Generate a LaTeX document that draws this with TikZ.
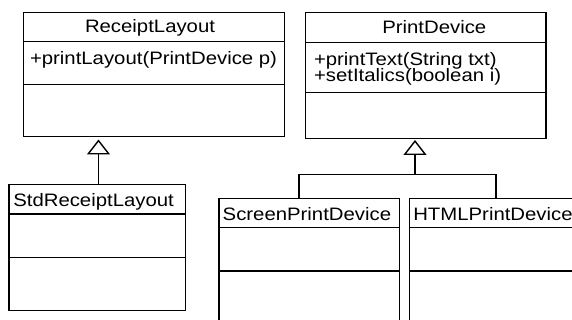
\documentclass[tikz,border=0pt]{standalone}
\usepackage{fontspec}
\setmainfont[FakeStretch=1.13]{Liberation Sans}
\usetikzlibrary{arrows.meta,fit}

\tikzset{
  box/.style={draw, line width=1.4pt, inner sep=0pt, outer sep=0pt},
  sep/.style={line width=1.4pt},
  lbl/.style={inner sep=0pt, outer sep=0pt, anchor=base west,
              font=\fontsize{18}{16.3}\selectfont},
  conn/.style={line width=1.4pt},
  gen/.style={conn, -{Triangle[open, width=23pt, length=15pt, line width=1.4pt]}}
}

\begin{document}
\begin{tikzpicture}[x=1pt, y=-1pt]
\useasboundingbox (0,0) rectangle (572,320);
\clip (0,0) rectangle (572,320);

% class boxes
\node[box, fit={(23.5,12.7) (284.5,136.7)}] (rl) {};
\node[box, fit={(305.7,12.7) (546,138.3)}] (pd) {};
\node[box, fit={(9,184.3) (185.3,310.7)}] (srl) {};
\node[box, fit={(219,198.7) (399.3,335)}] (spd) {};
\node[box, fit={(409.3,198.7) (595,335)}] (html) {};

% compartment separators
\draw[sep] (rl.west |- 0,41.7) -- (rl.east |- 0,41.7);
\draw[sep] (rl.west |- 0,84.3) -- (rl.east |- 0,84.3);
\draw[sep] (pd.west |- 0,42.3) -- (pd.east |- 0,42.3);
\draw[sep] (pd.west |- 0,92.3) -- (pd.east |- 0,92.3);
\draw[sep] (srl.west |- 0,214) -- (srl.east |- 0,214);
\draw[sep] (srl.west |- 0,257.3) -- (srl.east |- 0,257.3);
\draw[sep] (spd.west |- 0,227.3) -- (spd.east |- 0,227.3);
\draw[sep] (spd.west |- 0,271) -- (spd.east |- 0,271);
\draw[sep] (html.west |- 0,227.3) -- (html.east |- 0,227.3);
\draw[sep] (html.west |- 0,271) -- (html.east |- 0,271);

% names and operations
\node[lbl] (rlname) at (85,32.7) {ReceiptLayout};
\node[lbl] (rlop) at (30,65) {+printLayout(PrintDevice p)};
\node[lbl] (pdname) at (382.3,33.3) {PrintDevice};
\node[lbl] (pdop1) at (314,65.3) {+printText(String txt)};
\node[lbl] (pdop2) at (314,81.7) {+setItalics(boolean i)};
\node[lbl] (srlname) at (13.3,206.7) {StdReceiptLayout};
\node[lbl] (spdname) at (222.7,220) {ScreenPrintDevice};
\node[lbl] (htmlname) at (413.3,220) {HTMLPrintDevice};

% generalisation arrows
\draw[gen, shorten >=2.8pt] (srl.north -| 98.5,0) -- (rl.south -| 98.5,0);
\coordinate (join) at (415,174.3);
\draw[conn] (spd.north -| 299,0) |- (join);
\draw[conn] (html.north -| 496,0) |- (join);
\draw[gen, shorten >=1.7pt] (join) -- (pd.south -| join);
\end{tikzpicture}
\end{document}
